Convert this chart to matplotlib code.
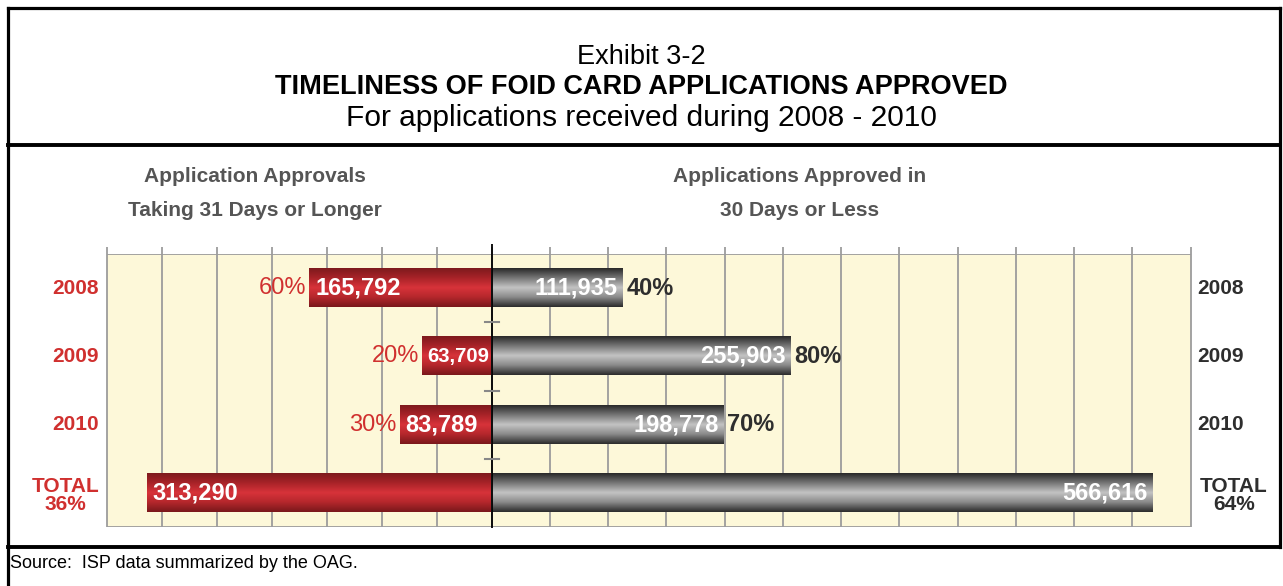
import numpy as np
import matplotlib
matplotlib.use("Agg")
import matplotlib.pyplot as plt
from matplotlib.colors import LinearSegmentedColormap

# Data
years = ['2008', '2009', '2010', 'TOTAL']
over_30 = [165792, 63709, 83789, 313290]        # taking 31 days or longer
within_30 = [111935, 255903, 198778, 566616]    # approved in 30 days or less
pct_over = ['60%', '20%', '30%', '36%']
pct_within = ['40%', '80%', '70%', '64%']

arial = 'Liberation Sans'
RED = '#d0302f'
DARK = '#2e2e2e'
HEAD = '#555555'
GRID = '#9c9c9c'
PANEL = '#fdf8d9'

W, H = 1283, 586
fig = plt.figure(figsize=(W / 100, H / 100), dpi=100)

# background axes in pixel coordinates for frame and titles
bg = fig.add_axes([0, 0, 1, 1])
bg.set_xlim(0, W)
bg.set_ylim(H, 0)
bg.axis('off')

bg.plot([7.5, 7.5], [7.5, H], color='black', lw=2.3)
bg.plot([7.5, 1279.5], [7.5, 7.5], color='black', lw=2.3)
bg.plot([1279.5, 1279.5], [7.5, 547], color='black', lw=2.3)
bg.plot([7.5, 1279.5], [145, 145], color='black', lw=2.8)
bg.plot([7.5, 1279.5], [547, 547], color='black', lw=2.8)

bg.text(641, 57, 'Exhibit 3-2', ha='center', va='center', fontsize=19.5, family=arial)
bg.text(641, 87, 'TIMELINESS OF FOID CARD APPLICATIONS APPROVED', ha='center', va='center',
        fontsize=19.5, family=arial, weight='bold')
bg.text(641, 118, 'For applications received during 2008 - 2010', ha='center', va='center',
        fontsize=21.5, family=arial)

bg.text(255, 177, 'Application Approvals', ha='center', va='center', fontsize=15,
        family=arial, weight='bold', color=HEAD)
bg.text(255, 210, 'Taking 31 Days or Longer', ha='center', va='center', fontsize=15,
        family=arial, weight='bold', color=HEAD)
bg.text(800, 177, 'Applications Approved in', ha='center', va='center', fontsize=15,
        family=arial, weight='bold', color=HEAD)
bg.text(800, 210, '30 Days or Less', ha='center', va='center', fontsize=15,
        family=arial, weight='bold', color=HEAD)

bg.text(10, 564, 'Source:  ISP data summarized by the OAG.', ha='left', va='center',
        fontsize=13, family=arial)

# panel axes: left half 0..350,000 and right half 0..600,000
top, bot = 254, 527
cx = 491.7
axl = fig.add_axes([107 / W, 1 - bot / H, (cx - 107) / W, (bot - top) / H])
axr = fig.add_axes([cx / W, 1 - bot / H, (1190.7 - cx) / W, (bot - top) / H])

red_cmap = LinearSegmentedColormap.from_list('r', ['#7e1a1d', '#a82328', '#d8333a', '#b5272c', '#7a181b'])
gray_cmap = LinearSegmentedColormap.from_list('g', ['#2a2a2a', '#777777', '#c4c4c4', '#8a8a8a', '#2c2c2c'])
grad = np.linspace(0, 1, 64).reshape(-1, 1)

y = np.arange(len(years))
bh = 0.56

for ax, lim in ((axl, (-350000, 0)), (axr, (0, 600000))):
    ax.set_facecolor(PANEL)
    for s in ax.spines.values():
        s.set_visible(False)
    ax.set_xticks([])
    ax.set_yticks([])
    ticks = np.arange(lim[0], lim[1] + 1, 50000)
    ax.vlines(ticks, 3.5, -0.6, color=GRID, lw=1.3, clip_on=False, zorder=1)
    ax.hlines([-0.5, 3.5], lim[0], lim[1], color=GRID, lw=1.3, zorder=1)

bars_l = axl.barh(y, [-v for v in over_30], height=bh, color=RED, zorder=2)
bars_r = axr.barh(y, within_30, height=bh, color='#777777', zorder=2)

for bars, ax, cmap in ((bars_l, axl, red_cmap), (bars_r, axr, gray_cmap)):
    for b in bars:
        x0, x1 = sorted([b.get_x(), b.get_x() + b.get_width()])
        y0 = b.get_y()
        ax.imshow(grad, extent=[x0, x1, y0 + bh, y0], aspect='auto', cmap=cmap,
                  zorder=3, interpolation='bicubic')

axl.set_xlim(-350000, 0)
axr.set_xlim(0, 600000)
for ax in (axl, axr):
    ax.set_ylim(3.5, -0.5)

# centre line and small ticks between rows
axr.vlines(0, 3.52, -0.65, color='black', lw=1.3, clip_on=False, zorder=4)
for t in (0.5, 1.5, 2.5):
    axr.plot([-6000, 6000], [t, t], color='#888888', lw=1.5, clip_on=False, zorder=4)

renderer = fig.canvas.get_renderer()


def fit(txt, ax, v0, v1, pad=8):
    # shrink a value label until it fits inside its bar
    px = abs(ax.transData.transform((v1, 0))[0] - ax.transData.transform((v0, 0))[0]) - pad
    w = txt.get_window_extent(renderer).width
    if w > px:
        txt.set_fontsize(txt.get_fontsize() * px / w)


vfs = 17
for i, (v, p) in enumerate(zip(over_30, pct_over)):
    t = axl.annotate(f'{v:,}', (-v, i), xytext=(4, 0), textcoords='offset points', ha='left',
                     va='center', fontsize=vfs, family=arial, weight='bold', color='white', zorder=5)
    fit(t, axl, -v, 0)
    if i < 3:
        axl.annotate(p, (-v, i), xytext=(-2, 0), textcoords='offset points', ha='right',
                     va='center', fontsize=vfs, family=arial, color=RED, zorder=5)
for i, (v, p) in enumerate(zip(within_30, pct_within)):
    t = axr.annotate(f'{v:,}', (v, i), xytext=(-3, 0), textcoords='offset points', ha='right',
                     va='center', fontsize=vfs, family=arial, weight='bold', color='white', zorder=5)
    fit(t, axr, 0, v)
    if i < 3:
        axr.annotate(p, (v, i), xytext=(3, 0), textcoords='offset points', ha='left',
                     va='center', fontsize=vfs, family=arial, weight='bold', color=DARK, zorder=5)

# row labels
lfs = 15
for i, yr in enumerate(years[:3]):
    axl.annotate(yr, (0, i), xycoords=('axes fraction', 'data'), xytext=(-6, 0),
                 textcoords='offset points', ha='right', va='center', fontsize=lfs,
                 family=arial, weight='bold', color=RED)
    axr.annotate(yr, (1, i), xycoords=('axes fraction', 'data'), xytext=(4.5, 0),
                 textcoords='offset points', ha='left', va='center', fontsize=lfs,
                 family=arial, weight='bold', color=DARK)
axl.annotate('TOTAL\n' + pct_over[3], (0, 3), xycoords=('axes fraction', 'data'), xytext=(-30, -2),
             textcoords='offset points', ha='center', va='center', fontsize=lfs,
             family=arial, weight='bold', color=RED, linespacing=0.95)
axr.annotate('TOTAL\n' + pct_within[3], (1, 3), xycoords=('axes fraction', 'data'), xytext=(31, -2),
             textcoords='offset points', ha='center', va='center', fontsize=lfs,
             family=arial, weight='bold', color=DARK, linespacing=0.95)

fig.savefig('out.png', dpi=100)
